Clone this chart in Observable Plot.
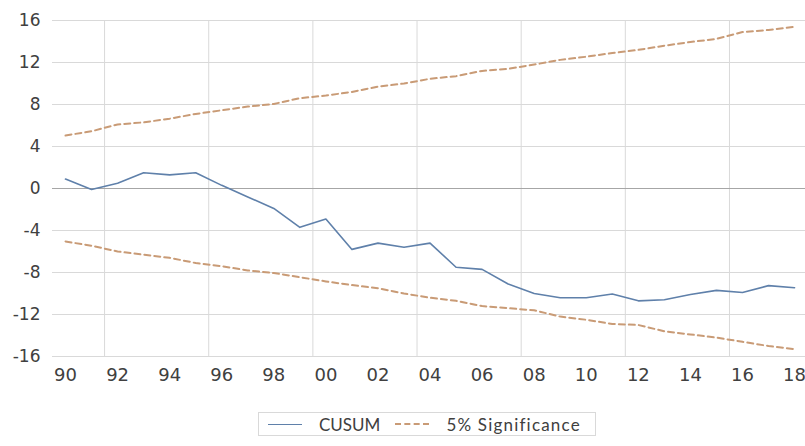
<!DOCTYPE html>
<html>
<head>
<meta charset="utf-8">
<script src="https://cdn.jsdelivr.net/npm/d3@7"></script>
<script src="https://cdn.jsdelivr.net/npm/@observablehq/plot@0.6"></script>
<style>
  html, body { margin: 0; padding: 0; background: #fff; overflow: hidden; }
  #chart { position: relative; width: 805px; height: 446px; }
  #legend {
    position: absolute; left: 258px; top: 412px; width: 338px; height: 24px;
    border: 1px solid #d9d9d9; box-sizing: border-box;
    font-family: "Lato", "Open Sans", sans-serif; font-size: 17px; color: #404040;
    display: flex; align-items: center;
  }
  .sw { display: inline-block; width: 34px; height: 0; }
</style>
</head>
<body>
<div id="chart"></div>
<script>
const years = d3.range(1990, 2019);
const cusum = [0.9, -0.1, 0.5, 1.5, 1.3, 1.5, 0.3, -0.8, -1.9, -3.7, -2.9, -5.8, -5.2, -5.6, -5.2,
  -7.5, -7.7, -9.1, -10.0, -10.4, -10.4, -10.05, -10.7, -10.6, -10.1, -9.7, -9.9, -9.25, -9.45];
const upper = [5.05, 5.45, 6.1, 6.3, 6.65, 7.1, 7.45, 7.8, 8.05, 8.6, 8.85, 9.2, 9.7, 10.0, 10.45,
  10.7, 11.2, 11.4, 11.8, 12.25, 12.55, 12.9, 13.2, 13.6, 13.95, 14.25, 14.9, 15.1, 15.4];
const lower = [-5.05, -5.45, -6.0, -6.3, -6.6, -7.1, -7.4, -7.8, -8.05, -8.45, -8.85, -9.2, -9.5, -10.0, -10.4,
  -10.7, -11.2, -11.4, -11.6, -12.2, -12.5, -12.9, -13.0, -13.6, -13.9, -14.2, -14.6, -15.0, -15.3];
const yTicks = [-16, -12, -8, -4, 0, 4, 8, 12, 16];
const xTickYears = d3.range(1990, 2019, 2);
const xGridYears = [1991.5, 1995.5, 1999.5, 2003.5, 2007.5, 2011.5, 2015.5];
const seriesNames = ["CUSUM", "5% Significance"];

const rows = years.map((y, i) => ({year: y, cusum: cusum[i], upper: upper[i], lower: lower[i]}));

const chart = Plot.plot({
  width: 805,
  height: 400,
  marginLeft: 52,
  marginRight: 0,
  marginTop: 20,
  marginBottom: 44,
  style: {fontFamily: "DejaVu Sans, sans-serif", fontSize: "15px", color: "#404040", background: "#fff"},
  x: {domain: [1989.5, 2018.42], axis: null},
  y: {domain: [-16, 16], axis: null},
  marks: [
    Plot.gridY(yTicks.filter(d => d !== 0), {stroke: "#d9d9d9", strokeOpacity: 1, strokeWidth: 1}),
    Plot.ruleX(xGridYears, {stroke: "#d9d9d9", strokeWidth: 1}),
    Plot.ruleY([0], {stroke: "#a6a6a6", strokeWidth: 1}),
    Plot.axisY(yTicks, {tickSize: 0, tickPadding: 12, fontSize: 17, fill: "#404040", label: null,
      tickFormat: d => String(d)}),
    Plot.axisX(xTickYears, {tickSize: 0, tickPadding: 12, fontSize: 18, fill: "#404040", label: null,
      tickFormat: d => String(d % 100).padStart(2, "0")}),
    Plot.line(rows, {x: "year", y: "upper", stroke: "#c99b76", strokeWidth: 2, strokeDasharray: "6,4"}),
    Plot.line(rows, {x: "year", y: "lower", stroke: "#c99b76", strokeWidth: 2, strokeDasharray: "6,4"}),
    Plot.line(rows, {x: "year", y: "cusum", stroke: "#5f80aa", strokeWidth: 1.6})
  ]
});
document.getElementById("chart").appendChild(chart);

const legend = document.createElement("div");
legend.id = "legend";
legend.innerHTML =
  `<span class="sw" style="margin-left:9px;border-top:1.6px solid #5f80aa"></span>` +
  `<span style="margin-left:17px">${seriesNames[0]}</span>` +
  `<span class="sw" style="margin-left:15px;border-top:2px dashed #c99b76"></span>` +
  `<span style="margin-left:17px;letter-spacing:1.2px">${seriesNames[1]}</span>`;
document.getElementById("chart").appendChild(legend);
</script>
</body>
</html>
